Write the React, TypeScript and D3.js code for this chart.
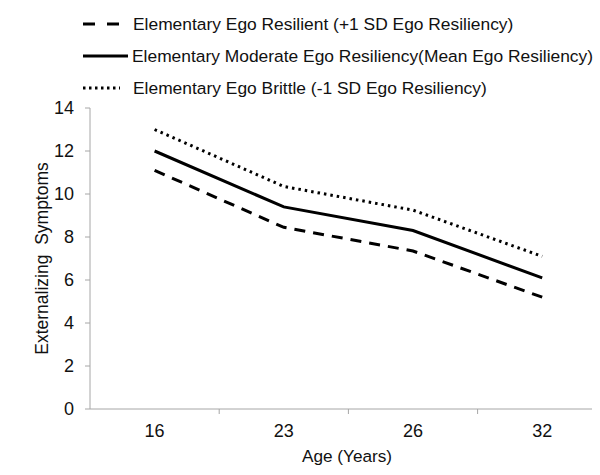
import React from "react";
import * as d3 from "d3";

const ages = ["16", "23", "26", "32"];
const resilient = [11.1, 8.45, 7.35, 5.2];
const moderate = [12.0, 9.4, 8.3, 6.1];
const brittle = [13.0, 10.35, 9.25, 7.1];
const yTicks = [0, 2, 4, 6, 8, 10, 12, 14];

const seriesNames = [
  "Elementary Ego Resilient (+1 SD Ego Resiliency)",
  "Elementary Moderate Ego Resiliency(Mean Ego Resiliency)",
  "Elementary Ego Brittle (-1 SD Ego Resiliency)",
];
const seriesData = [resilient, moderate, brittle];
const dashes = ["11,8", "none", "2.5,4"];

export default function App() {
  const W = 600, H = 475;
  const left = 90, right = 592, top = 108, bottom = 409;
  const x = d3.scaleBand<string>().domain(ages).range([left, left + 4 * 129.2]);
  const y = d3.scaleLinear().domain([0, 14]).range([bottom, top]);
  const line = d3
    .line<number>()
    .x((_, i) => (x(ages[i]) as number) + x.bandwidth() / 2)
    .y((d) => y(d));
  const axisColor = "#a6a6a6";
  const textColor = "#111";
  const font = "Liberation Sans, Arial, sans-serif";
  const legendY = [24, 56, 88];

  return (
    <svg
      width={W}
      height={H}
      style={{ position: "absolute", left: 0, top: 0, background: "#fff" }}
      fontFamily={font}
    >
      {/* legend */}
      {seriesNames.map((name, i) => (
        <g key={name}>
          <line
            x1={83}
            x2={i === 1 ? 128 : 120}
            y1={legendY[i]}
            y2={legendY[i]}
            stroke="#000"
            strokeWidth={3}
            strokeDasharray={i === 0 ? "12,12" : i === 2 ? "2.5,3.5" : "none"}
          />
          <text
            x={i === 1 ? 132 : 133}
            y={legendY[i]}
            dy="0.35em"
            fontSize={17.4}
            fill={textColor}
          >
            {name}
          </text>
        </g>
      ))}

      {/* y axis */}
      <line x1={left} x2={left} y1={top} y2={bottom} stroke={axisColor} strokeWidth={1} />
      {yTicks.map((t) => (
        <g key={t}>
          <line x1={left - 5} x2={left} y1={y(t)} y2={y(t)} stroke={axisColor} />
          <text
            x={74}
            y={y(t)}
            dy="0.35em"
            textAnchor="end"
            fontSize={18}
            fill={textColor}
          >
            {t}
          </text>
        </g>
      ))}
      <text
        transform={`translate(48,${(top + bottom) / 2}) rotate(-90)`}
        textAnchor="middle"
        fontSize={17.5}
        fill={textColor}
        style={{ whiteSpace: "pre" }}
      >
        {"Externalizing  Symptoms"}
      </text>

      {/* x axis */}
      <line x1={left} x2={right} y1={bottom} y2={bottom} stroke={axisColor} />
      {ages.slice(1).map((a) => (
        <line
          key={a}
          x1={x(a) as number}
          x2={x(a) as number}
          y1={bottom}
          y2={bottom + 5}
          stroke={axisColor}
        />
      ))}
      {ages.map((a) => (
        <text
          key={a}
          x={(x(a) as number) + x.bandwidth() / 2}
          y={431}
          dy="0.35em"
          textAnchor="middle"
          fontSize={18}
          fill={textColor}
        >
          {a}
        </text>
      ))}
      <text x={347} y={456} dy="0.35em" textAnchor="middle" fontSize={17.2} fill={textColor}>
        Age (Years)
      </text>

      {/* series */}
      {seriesData.map((s, i) => (
        <path
          key={i}
          d={line(s) || ""}
          fill="none"
          stroke="#000"
          strokeWidth={3}
          strokeDasharray={dashes[i]}
        />
      ))}
    </svg>
  );
}
